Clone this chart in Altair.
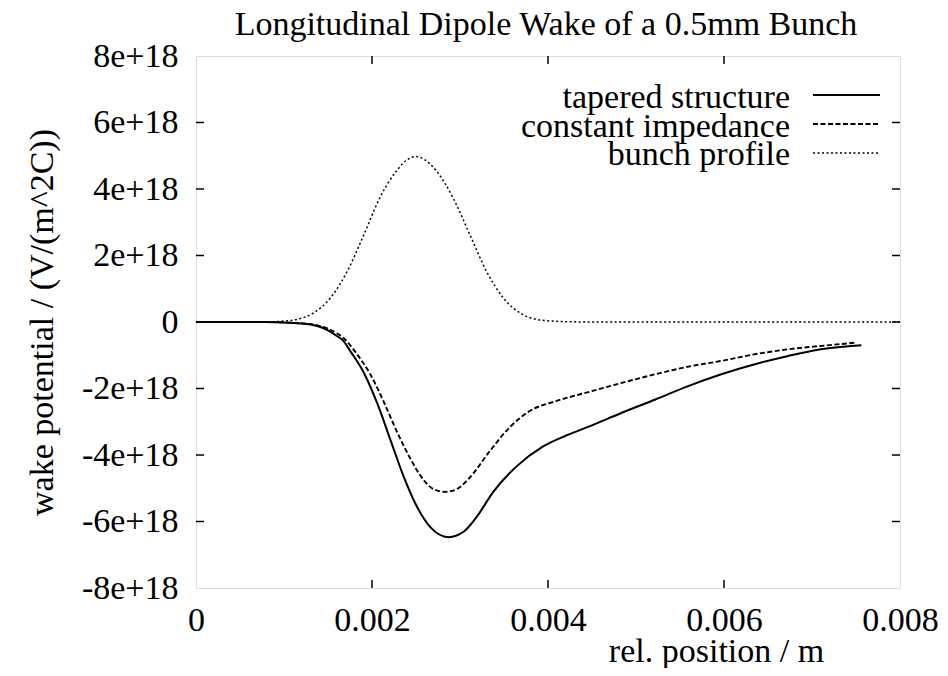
import altair as alt
import pandas as pd

# ---- data (y values in units of 1e18 V/(m^2C)) ----
x_tapered = [0, 0.0005, 0.0009, 0.00112, 0.00123, 0.00138, 0.0015, 0.0016, 0.00168, 0.00175,
             0.00191, 0.00206, 0.00221, 0.00236, 0.00251, 0.00266, 0.00287, 0.00304, 0.00319,
             0.00338, 0.00364, 0.00394, 0.00420, 0.00447, 0.00484, 0.00522, 0.00560, 0.00597,
             0.00635, 0.00673, 0.00710, 0.00756]
y_tapered = [0, 0, -0.005, -0.03, -0.05, -0.12, -0.25, -0.42, -0.58, -0.86,
             -1.54, -2.45, -3.55, -4.65, -5.55, -6.16, -6.47, -6.31, -5.86,
             -5.10, -4.35, -3.75, -3.42, -3.14, -2.73, -2.33, -1.92, -1.57,
             -1.27, -1.02, -0.82, -0.70]

x_const = [0, 0.0005, 0.0009, 0.00112, 0.00125, 0.00138, 0.0015, 0.0016, 0.00168, 0.00183,
           0.00198, 0.00213, 0.00228, 0.00243, 0.00258, 0.0027, 0.00283, 0.00296, 0.00311,
           0.00334, 0.00356, 0.00379, 0.00409, 0.00447, 0.00484, 0.00522, 0.0056, 0.00597,
           0.00635, 0.00673, 0.0071, 0.0075]
y_const = [0, 0, -0.005, -0.03, -0.05, -0.1, -0.2, -0.34, -0.49, -0.97,
           -1.57, -2.38, -3.28, -4.08, -4.73, -5.03, -5.11, -5.03, -4.68,
           -3.88, -3.18, -2.68, -2.38, -2.10, -1.83, -1.57, -1.34, -1.17,
           -0.97, -0.82, -0.72, -0.62]

x_bunch = [0, 0.0008, 0.00095, 0.00115, 0.00134, 0.00153, 0.00172, 0.00191, 0.00209, 0.00228,
           0.0024, 0.0025, 0.0026, 0.00273, 0.00292, 0.00311, 0.0033, 0.00349, 0.00371,
           0.00394, 0.0042, 0.0045, 0.008]
y_bunch = [0, 0, 0.02, 0.08, 0.28, 0.73, 1.53, 2.64, 3.74, 4.55,
           4.88, 4.98, 4.88, 4.55, 3.74, 2.64, 1.53, 0.73, 0.23,
           0.05, 0.01, 0, 0]

chart_title = "Longitudinal Dipole Wake of a 0.5mm Bunch"
series_names = ["tapered structure", "constant impedance", "bunch profile"]
x_tick_values = [0, 0.002, 0.004, 0.006, 0.008]
y_tick_values = [-8e18, -6e18, -4e18, -2e18, 0, 2e18, 4e18, 6e18, 8e18]
inner_x_ticks = [0.002, 0.004, 0.006]
inner_y_ticks = [-6e18, -4e18, -2e18, 0, 2e18, 4e18, 6e18]

W, H = 704, 532
FONT = "Liberation Serif"
FS = 34

def frame(xs, ys):
    return pd.DataFrame({"x": xs, "y": [v * 1e18 for v in ys]})

xscale = alt.Scale(domain=[0, 0.008], nice=False, zero=False)
yscale = alt.Scale(domain=[-8e18, 8e18], nice=False, zero=False)

x_enc = alt.X("x:Q", scale=xscale, axis=alt.Axis(
    values=x_tick_values, title="rel. position / m", grid=False, ticks=False, domain=False,
    labelExpr="datum.value == 0 ? '0' : format(datum.value, '.3f')",
    labelFont=FONT, labelFontSize=FS, labelColor="black", labelPadding=15,
    labelFlush=False, labelOverlap=False,
    titleFont=FONT, titleFontSize=FS, titleFontWeight="normal", titleColor="black",
    titleX=520, titleY=63, titleBaseline="middle", titleAlign="center"))
y_enc = alt.Y("y:Q", scale=yscale, axis=alt.Axis(
    values=y_tick_values, title="wake potential / (V/(m^2C))", grid=False, ticks=False, domain=False,
    labelExpr="datum.value == 0 ? '0' : (datum.value / 1e18) + 'e+18'",
    labelFont=FONT, labelFontSize=FS, labelColor="black", labelPadding=18,
    labelFlush=False, labelOverlap=False,
    titleFont=FONT, titleFontSize=FS, titleFontWeight="normal", titleColor="black",
    titleX=-154, titleY=H / 2, titleAngle=-90, titleBaseline="middle", titleAlign="center"))

tapered = alt.Chart(frame(x_tapered, y_tapered)).mark_line(
    color="black", strokeWidth=2, interpolate="monotone").encode(x=x_enc, y=y_enc)
const = alt.Chart(frame(x_const, y_const)).mark_line(
    color="black", strokeWidth=1.9, strokeDash=[5, 2.5], interpolate="monotone").encode(x="x:Q", y="y:Q")
bunch = alt.Chart(frame(x_bunch, y_bunch)).mark_line(
    color="black", strokeWidth=1.5, strokeDash=[2, 2.5], interpolate="monotone").encode(x="x:Q", y="y:Q")

# inward tick marks on all four sides
tx = pd.DataFrame({"t": inner_x_ticks})
ty = pd.DataFrame({"t": inner_y_ticks})
tick_style = dict(color="black", strokeWidth=1.5)
bottom_ticks = alt.Chart(tx).mark_rule(**tick_style).encode(x="t:Q", y=alt.value(H), y2=alt.value(H - 8))
top_ticks = alt.Chart(tx).mark_rule(**tick_style).encode(x="t:Q", y=alt.value(0), y2=alt.value(8))
left_ticks = alt.Chart(ty).mark_rule(**tick_style).encode(y="t:Q", x=alt.value(0), x2=alt.value(8))
right_ticks = alt.Chart(ty).mark_rule(**tick_style).encode(y="t:Q", x=alt.value(W), x2=alt.value(W - 8))

# chart title as a text mark above the frame
title_layer = alt.Chart(pd.DataFrame({"label": [chart_title]})).mark_text(
    font=FONT, fontSize=FS, color="black", align="center", baseline="alphabetic").encode(
    text="label:N", x=alt.value(W / 2 - 2), y=alt.value(-21))

# legend (label left, line sample right)
legend_text_y = [42, 71, 99]
legend_line_y = [39, 68, 97]
legend_dash = [[1, 0], [5, 2.5], [2, 2.5]]
legend_width = [2, 1.9, 1.5]
legend_layers = []
for name, ty_, ly, dash, sw in zip(series_names, legend_text_y, legend_line_y, legend_dash, legend_width):
    d = pd.DataFrame({"label": [name]})
    legend_layers.append(alt.Chart(d).mark_text(
        font=FONT, fontSize=FS, color="black", align="right", baseline="middle").encode(
        text="label:N", x=alt.value(594), y=alt.value(ty_)))
    legend_layers.append(alt.Chart(d).mark_rule(
        color="black", strokeWidth=sw, strokeDash=dash).encode(
        x=alt.value(617), x2=alt.value(684), y=alt.value(ly)))

chart = alt.layer(
    bunch, const, tapered, bottom_ticks, top_ticks, left_ticks, right_ticks, title_layer, *legend_layers
).properties(
    width=W, height=H,
    autosize=alt.AutoSizeParams(type="none"),
    padding={"left": 188, "top": 48, "right": 40, "bottom": 80},
).configure_view(stroke="black", strokeWidth=1.5).configure(background="white")

chart.save("out.html", embed_options={"renderer": "svg", "actions": False})
